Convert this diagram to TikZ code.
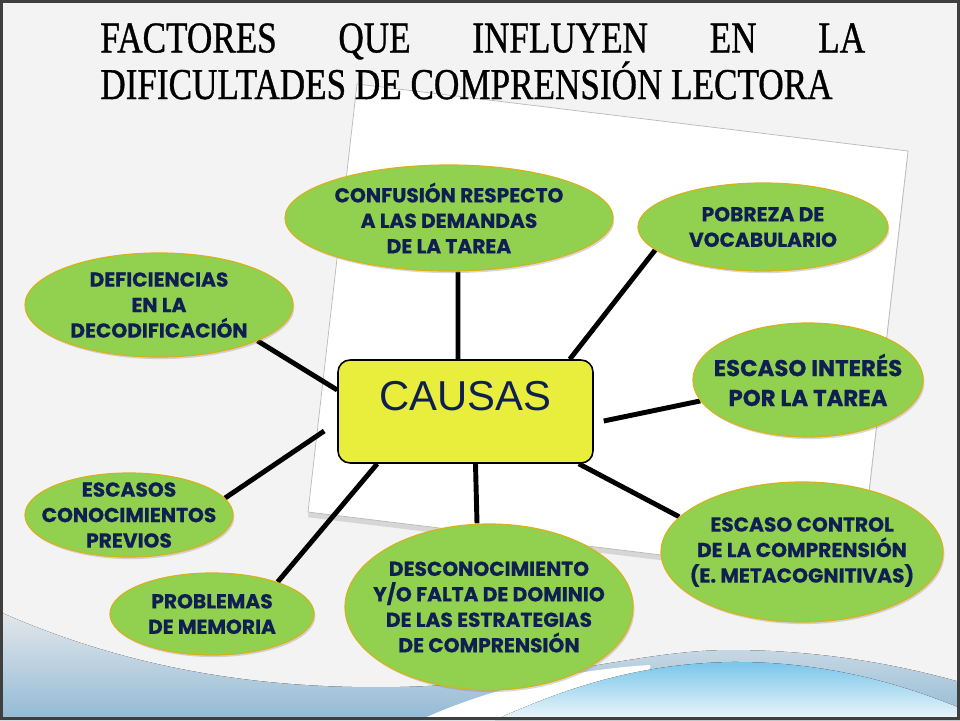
\documentclass[tikz,border=0pt]{standalone}
\usepackage{fontspec}
\newfontfamily\titlefont[FakeStretch=0.8,FakeBold=0.8]{Liberation Serif}
\newfontfamily\causefont[FakeBold=0.6]{Poppins}
\newfontfamily\boxfont{Liberation Sans}
\usetikzlibrary{shapes.geometric}
\usetikzlibrary{shadows}
\pgfdeclarelayer{backdrop}
\pgfdeclarelayer{background}
\pgfsetlayers{backdrop,background,main}
\definecolor{slidegray}{HTML}{F3F3F3}
\definecolor{framegray}{HTML}{3F3F3F}
\definecolor{leafgreen}{HTML}{92D050}
\definecolor{leafedge}{HTML}{D2B41E}
\definecolor{inkblue}{HTML}{0F1F52}
\definecolor{boxyellow}{HTML}{E9EE3C}
\definecolor{wavegray}{HTML}{E3E7EB}
\definecolor{wavesteel}{HTML}{92BAD5}
\definecolor{waveblue}{HTML}{78C5EA}
\definecolor{wavepale}{HTML}{EEF6FB}

\begin{document}
\begin{tikzpicture}[x=0.02cm,y=-0.02cm,
						causenode/.style={ellipse, fill=leafgreen, draw=leafedge, line width=0.7pt, text=inkblue, align=center, inner sep=-0.3cm,
							font=\causefont\bfseries\fontsize{11.5}{14.5}\selectfont,
							drop shadow={shadow xshift=0.8pt, shadow yshift=-1.2pt, opacity=0.3}},
						link/.style={line width=2.8pt, black},
						]
						\useasboundingbox (0,0) rectangle (960,720);
						\begin{pgfonlayer}{backdrop}
						%Slide
						\fill[slidegray] (0,0) rectangle (960,720);
						\fill[top color=wavegray, bottom color=wavesteel] (0,612) .. controls (120,665) and (250,690) .. (400,687) .. controls (540,684) and (640,650) .. (730,650) .. controls (830,650) and (910,668) .. (960,682) -- (960,720) -- (0,720) -- cycle;
						\fill[white] (420,720) .. controls (490,688) and (570,670) .. (650,665) -- (650,720) -- cycle;
						\fill[top color=waveblue, bottom color=wavepale] (495,720) .. controls (570,686) and (640,664) .. (730,662) .. controls (840,661) and (920,692) .. (960,708) -- (960,720) -- cycle;
						\draw[framegray, line width=0.06cm] (1.5,1.5) rectangle (958.5,718.5);
						%Paper
						\path[fill=white, draw=gray!55, line width=0.4pt, drop shadow={shadow xshift=0pt, shadow yshift=-3pt, opacity=0.25}] (357,84) -- (908,151) -- (859,579) -- (308,512) -- cycle;
						\end{pgfonlayer}

						%Title
						\node[anchor=base west, inner sep=0, align=left, font=\titlefont\fontsize{25}{22.1}\selectfont] (title) at (100,99) {\makebox[15.3cm][s]{FACTORES QUE INFLUYEN EN LA}\\DIFICULTADES DE COMPRENSIÓN LECTORA};

						%Nodes
						\node[rectangle, rounded corners=0.24cm, fill=boxyellow, draw=black, line width=0.9pt, minimum width=5.1cm, inner sep=0, text height=1cm, text depth=1.06cm, text=inkblue, font=\boxfont\fontsize{23.8}{28}\selectfont] (causas) at (465.5,411.5) {CAUSAS};
						\node[causenode, minimum width=6.56cm, minimum height=2.12cm] (confusion) at (449,218) {CONFUSIÓN RESPECTO\\A LAS DEMANDAS\\DE LA TAREA};
						\node[causenode, minimum width=5cm, minimum height=1.76cm] (pobreza) at (763,227) {POBREZA DE\\VOCABULARIO};
						\node[causenode, minimum width=4.6cm, minimum height=2.28cm, font=\causefont\bfseries\fontsize{13}{17}\selectfont] (interes) at (808,380) {ESCASO INTERÉS\\POR LA TAREA};
						\node[causenode, minimum width=5.64cm, minimum height=2.8cm] (control) at (802,552) {ESCASO CONTROL\\DE LA COMPRENSIÓN\\(E. METACOGNITIVAS)};
						\node[causenode, minimum width=5.76cm, minimum height=3.32cm] (desconoc) at (489,607) {DESCONOCIMIENTO\\Y/O FALTA DE DOMINIO\\DE LAS ESTRATEGIAS\\DE COMPRENSIÓN};
						\node[causenode, minimum width=4.08cm, minimum height=1.64cm] (memoria) at (212,614) {PROBLEMAS\\DE MEMORIA};
						\node[causenode, minimum width=4.16cm, minimum height=1.68cm] (previos) at (129,515) {ESCASOS\\CONOCIMIENTOS\\PREVIOS};
						\node[causenode, minimum width=5.36cm, minimum height=2.08cm] (decodif) at (159,305) {DEFICIENCIAS\\EN LA\\DECODIFICACIÓN};

						\begin{pgfonlayer}{background}
						%Lines
						\draw[link] ([xshift=0.18cm]confusion.south) -- ([xshift=-0.15cm]causas.north);
						\draw[link] (pobreza.192) -- ([xshift=-0.48cm]causas.north east);
						\draw[link] (interes.191) -- ([xshift=0.2cm,yshift=-0.19cm]causas.east);
						\draw[link] (control.164) -- ([xshift=-0.3cm]causas.south east);
						\draw[link] ([xshift=-0.24cm]desconoc.north) -- ([xshift=0.2cm]causas.south);
						\draw[link] (memoria.26) -- ([xshift=0.8cm]causas.south west);
						\draw[link] (previos.10) -- ([xshift=-0.26cm,yshift=-0.39cm]causas.west);
						\draw[link] (decodif.-20) -- ([yshift=0.43cm]causas.west);
						\end{pgfonlayer}
					\end{tikzpicture}
\end{document}
